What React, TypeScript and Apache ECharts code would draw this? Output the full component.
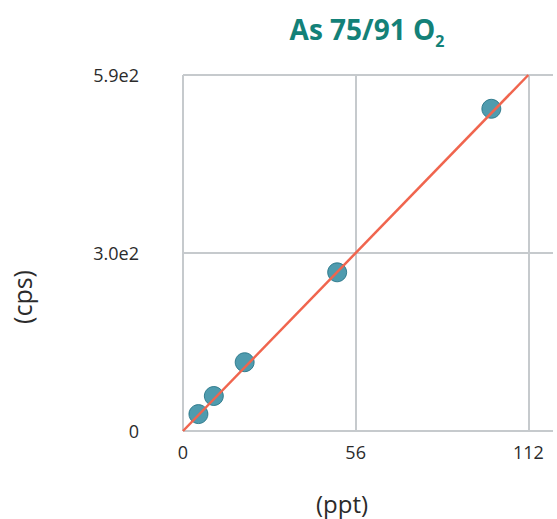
import React, { useEffect, useRef } from "react";
import * as echarts from "echarts";

const concentrations = [5, 10, 20, 50, 100];
const counts = [28, 58, 114, 263, 534];
const fitLine = [
  [0, 0],
  [112, 590],
];
const xTicks = [0, 56, 112];
const yTickLabels: Record<number, string> = { 0: "0", 295: "3.0e2", 590: "5.9e2" };

export default function App() {
  const ref = useRef<HTMLDivElement>(null);
  useEffect(() => {
    if (!ref.current) return;
    const chart = echarts.init(ref.current, null, { renderer: "svg" });
    const grey = "#c6cacd";
    chart.setOption({
      animation: false,
      backgroundColor: "#ffffff",
      title: {
        text: "As 75/91 O{sub|2}",
        left: 362,
        top: 4,
        textAlign: "center",
        textStyle: {
          fontFamily: "Open Sans",
          fontSize: 28,
          fontWeight: "bold",
          color: "#138178",
          rich: {
            sub: {
              fontFamily: "Open Sans",
              fontSize: 16,
              fontWeight: "bold",
              color: "#138178",
              verticalAlign: "bottom",
              padding: [24, 0, 0, 0],
            },
          },
        },
      },
      grid: { left: 183, right: 4, top: 75, bottom: 88, containLabel: false },
      xAxis: {
        type: "value",
        min: 0,
        max: 120,
        interval: 56,
        axisLine: { show: false },
        axisTick: { show: false },
        axisLabel: {
          margin: 12,
          fontFamily: "Open Sans",
          fontSize: 18,
          color: "#2b2b2b",
          formatter: (v: number) => (xTicks.indexOf(v) >= 0 ? String(v) : ""),
        },
        splitLine: {
          show: true,
          lineStyle: { color: [grey, grey, grey, "rgba(0,0,0,0)"], width: 2 },
        },
      },
      yAxis: {
        type: "value",
        min: 0,
        max: 590,
        interval: 295,
        axisLine: { show: false },
        axisTick: { show: false },
        axisLabel: {
          margin: 44,
          fontFamily: "Open Sans",
          fontSize: 18,
          color: "#2b2b2b",
          formatter: (v: number) => yTickLabels[v] ?? "",
        },
        splitLine: { show: true, lineStyle: { color: grey, width: 2 } },
      },
      graphic: [
        {
          type: "text",
          x: 22,
          y: 297,
          rotation: Math.PI / 2,
          style: {
            text: "(cps)",
            fontFamily: "Open Sans",
            fontSize: 25,
            fill: "#2b2b2b",
            align: "center",
            verticalAlign: "middle",
          },
        },
        {
          type: "text",
          x: 342,
          y: 503,
          style: {
            text: "(ppt)",
            fontFamily: "Open Sans",
            fontSize: 24,
            fill: "#2b2b2b",
            align: "center",
            verticalAlign: "middle",
          },
        },
      ],
      series: [
        {
          type: "scatter",
          data: concentrations.map((c, i) => [c, counts[i]]),
          symbolSize: 19,
          itemStyle: {
            color: "#23829a",
            borderColor: "#1b6d80",
            borderWidth: 1,
          },
          z: 2,
        },
        {
          type: "line",
          data: fitLine,
          showSymbol: false,
          symbol: "none",
          lineStyle: { color: "#f0654e", width: 2.5 },
          z: 3,
        },
      ],
    });
    return () => chart.dispose();
  }, []);
  return (
    <div
      ref={ref}
      style={{ position: "fixed", left: 0, top: 0, width: 557, height: 519 }}
    />
  );
}
